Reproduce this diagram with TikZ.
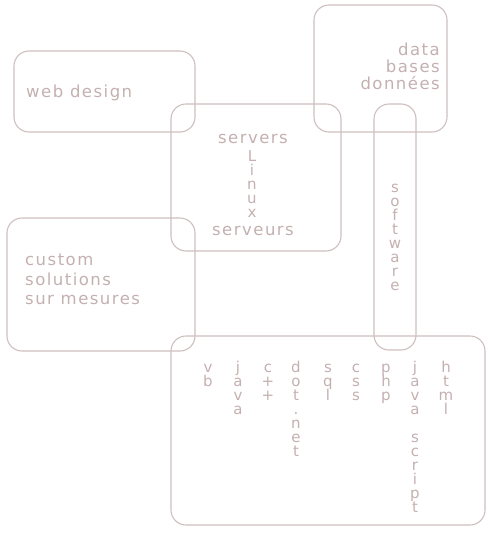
\documentclass[tikz,border=0pt]{standalone}
\usepackage{fontspec}
\newfontfamily\wordfont[LetterSpace=9]{DejaVu Sans}
\newfontfamily\letterfont{DejaVu Sans}
\definecolor{boxline}{RGB}{206,191,191}
\definecolor{boxtext}{RGB}{196,176,176}
\tikzset{
  panel/.style={draw=boxline, line width=1.1pt, rounded corners=15pt},
  word/.style={text=boxtext, font=\wordfont\fontsize{16.5}{17}\selectfont, inner sep=0pt},
  letter/.style={text=boxtext, font=\letterfont\fontsize{15}{14}\selectfont, inner sep=0pt,
    text height=9pt, text depth=2pt, anchor=base},
}
\begin{document}
\begin{tikzpicture}[x=1pt,y=-1pt]
\useasboundingbox (0,0) rectangle (500,533);
% panels
\draw[panel] (14,51) rectangle (195,132);
\draw[panel] (314,5) rectangle (447,132);
\draw[panel] (171,104) rectangle (341,251);
\draw[panel] (374,104) rectangle (416,350);
\draw[panel] (7,218) rectangle (195,351);
\draw[panel] (171,336) rectangle (485,525);
% horizontal labels
\node[word,anchor=base west] (webdesign) at (26,97) {web design};
\node[word,anchor=base east] (data) at (440,55) {data};
\node[word,anchor=base east] (bases) at (440,72) {bases};
\node[word,anchor=base east] (donnees) at (440,89) {données};
\node[word,anchor=base] (servers) at (253,143) {servers};
\node[word,anchor=base] (serveurs) at (253,235) {serveurs};
\node[word,anchor=base west] (custom) at (25,265) {custom};
\node[word,anchor=base west] (solutions) at (25,285) {solutions};
\node[word,anchor=base west] (surmesures) at (25,304) {sur mesures};
% vertical labels, one letter per line
\foreach \x/\y/\word [count=\c] in {395/192/{s,o,f,t,w,a,r,e}, 252/161/{L,i,n,u,x},
  208/372/{v,b}, 238/372/{j,a,v,a}, 268/372/{c,+,+}, 296/372/{d,o,t,{.},n,e,t},
  328/372/{s,q,l}, 356/372/{c,s,s}, 386/372/{p,h,p},
  415/372/{j,a,v,a,{},s,c,r,i,p,t}, 446/372/{h,t,m,l}}{
  \foreach \ch [count=\i from 0] in \word
    \node[letter] (col\c-\i) at (\x,\y+14*\i) {\ch};
}
\end{tikzpicture}
\end{document}
